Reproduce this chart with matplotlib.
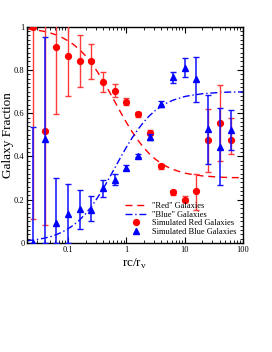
import numpy as np
import matplotlib
matplotlib.use("Agg")
import matplotlib.pyplot as plt
from matplotlib.lines import Line2D
from matplotlib.ticker import MultipleLocator, NullFormatter

# ---- data ----
x_pts = [0.0251, 0.0398, 0.0631, 0.1, 0.158, 0.251, 0.398, 0.631, 1.0,
         1.585, 2.512, 3.981, 6.31, 10.0, 15.85, 25.12, 39.81, 63.1]

red_frac = [1.0, 0.519, 0.908, 0.865, 0.841, 0.841, 0.746, 0.704, 0.653,
            0.595, 0.51, 0.355, 0.234, 0.199, 0.242, 0.476, 0.556, 0.476]
red_lo = [0.11, 0.082, 0.596, 0.679, 0.723, 0.758, 0.70, 0.676, 0.637,
          0.583, 0.498, 0.343, 0.222, 0.19, 0.153, 0.33, 0.38, 0.41]
red_hi = [1.0, 1.05, 1.05, 1.05, 0.962, 0.92, 0.792, 0.736, 0.669,
          0.607, 0.522, 0.367, 0.246, 0.219, 0.318, 0.62, 0.729, 0.58]

blue_frac = [0.0, 0.48, 0.094, 0.134, 0.157, 0.153, 0.253, 0.291, 0.348,
             0.404, 0.49, 0.643, 0.766, 0.808, 0.757, 0.526, 0.442, 0.522]
blue_lo = [0.0, 0.0, 0.0, 0.0, 0.066, 0.103, 0.211, 0.268, 0.336,
           0.396, 0.478, 0.631, 0.738, 0.766, 0.653, 0.364, 0.268, 0.43]
blue_hi = [0.538, 0.951, 0.302, 0.271, 0.245, 0.217, 0.291, 0.318, 0.36,
           0.412, 0.502, 0.655, 0.792, 0.857, 0.861, 0.684, 0.623, 0.615]

curve_x = [0.02, 0.0251, 0.0316, 0.0398, 0.0501, 0.0631, 0.0794, 0.1, 0.126,
           0.158, 0.2, 0.251, 0.316, 0.398, 0.501, 0.631, 0.794, 1.0, 1.26,
           1.585, 2.0, 2.512, 3.16, 3.981, 5.01, 6.31, 7.94, 10.0, 12.6,
           15.85, 20.0, 25.12, 31.6, 39.81, 50.1, 63.1, 79.4, 100.0]
blue_curve = [0.010, 0.013, 0.017, 0.022, 0.029, 0.038, 0.050, 0.065, 0.083,
              0.106, 0.134, 0.167, 0.206, 0.249, 0.296, 0.345, 0.394, 0.442,
              0.486, 0.525, 0.560, 0.589, 0.613, 0.632, 0.648, 0.660, 0.669,
              0.677, 0.682, 0.686, 0.690, 0.692, 0.694, 0.696, 0.697, 0.698,
              0.698, 0.699]
red_curve = [0.990, 0.987, 0.983, 0.978, 0.971, 0.962, 0.950, 0.935, 0.917,
             0.894, 0.866, 0.833, 0.794, 0.751, 0.704, 0.655, 0.606, 0.558,
             0.514, 0.475, 0.440, 0.411, 0.387, 0.368, 0.352, 0.340, 0.331,
             0.323, 0.318, 0.314, 0.310, 0.308, 0.306, 0.304, 0.303, 0.302,
             0.302, 0.301]

y_ticks = [0, 0.2, 0.4, 0.6, 0.8, 1.0]
y_ticklabels = ["0", "0.2", "0.4", "0.6", "0.8", "1"]
x_ticks = [0.1, 1, 10, 100]
x_ticklabels = ["0.1", "1", "10", "100"]
legend_labels = ['"Red" Galaxies', '"Blue" Galaxies',
                 'Simulated Red Galaxies', 'Simulated Blue Galaxies']

# ---- plot ----
plt.rcParams['font.family'] = ['Liberation Serif', 'DejaVu Serif']
fig = plt.figure(figsize=(2.72, 3.52), dpi=100)
ax = fig.add_axes([0.100, 0.310, 0.793, 0.614])

RED = '#ff0000'
BLUE = '#0000ff'
DASH = (0, (5, 3.5))
DASHDOT = (0, (5, 2, 1, 2))

ax.plot(curve_x, red_curve, color=RED, ls=DASH, lw=1.0)
ax.plot(curve_x, blue_curve, color=BLUE, ls=DASHDOT, lw=1.0)

xa = np.array(x_pts)
rf = np.array(red_frac)
bf = np.array(blue_frac)
ax.errorbar(xa, rf, yerr=[rf - np.array(red_lo), np.array(red_hi) - rf],
            fmt='o', color=RED, ecolor='#ff3a3a', ms=4.2, elinewidth=1.0,
            capsize=2.5, capthick=1.0, zorder=3)
ax.errorbar(xa, bf, yerr=[bf - np.array(blue_lo), np.array(blue_hi) - bf],
            fmt='^', color=BLUE, ecolor='#1010ff', ms=4.2, elinewidth=1.1,
            capsize=2.5, capthick=1.0, zorder=4)

ax.set_xscale('log')
ax.set_xlim(0.02, 100)
ax.set_ylim(0, 1)

ax.set_xticks(x_ticks)
ax.set_xticklabels(x_ticklabels)
ax.xaxis.set_minor_formatter(NullFormatter())
ax.set_yticks(y_ticks)
ax.set_yticklabels(y_ticklabels)
ax.yaxis.set_minor_locator(MultipleLocator(0.02))

ax.tick_params(which='both', direction='in', top=True, right=True,
               labelsize=6, pad=2)
ax.tick_params(which='major', length=4, width=0.8)
ax.tick_params(which='minor', length=2, width=0.6)
for s in ax.spines.values():
    s.set_linewidth(1.0)

ax.set_ylabel('Galaxy Fraction', fontsize=9.5)
ax.yaxis.set_label_coords(-0.062, 0.5)
ax.set_xlabel(r'rc/r$_\mathregular{v}$', fontsize=9.5, labelpad=2)

handles = [
    Line2D([], [], color=RED, ls=DASH, lw=1.0),
    Line2D([], [], color=BLUE, ls=DASHDOT, lw=1.0),
    Line2D([], [], color=RED, ls='none', marker='o', ms=4.2),
    Line2D([], [], color=BLUE, ls='none', marker='^', ms=4.2),
]
ax.legend(handles, legend_labels, loc='lower right', frameon=False,
          fontsize=6, handlelength=2.6, borderaxespad=0.4,
          labelspacing=0.1, handletextpad=0.6)

fig.savefig('out.png', dpi=100)
